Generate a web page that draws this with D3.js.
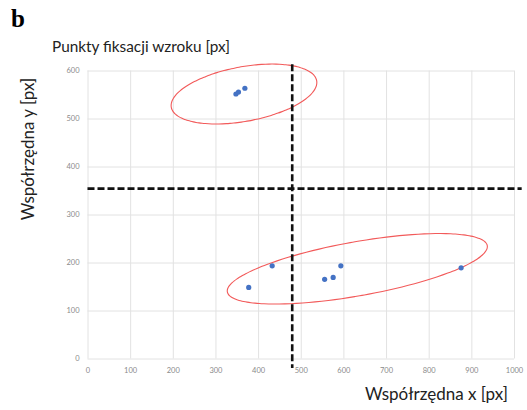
<!DOCTYPE html>
<html>
<head>
<meta charset="utf-8">
<script src="https://cdn.jsdelivr.net/npm/d3@7"></script>
<style>
  html, body { margin: 0; padding: 0; background: #fff; }
  svg { display: block; }
</style>
</head>
<body>
<svg id="chart" width="527" height="410"></svg>
<script>
// Fixation points (x, y in screen pixels)
const fixX = [348, 354, 369, 433, 378, 556, 576, 594, 876];
const fixY = [551, 555, 563, 193, 148, 165, 169, 193, 189];

// Axis ticks
const xTicks = [0, 100, 200, 300, 400, 500, 600, 700, 800, 900, 1000];
const yTicks = [0, 100, 200, 300, 400, 500, 600];

// Cluster outlines: centre and two conjugate semi-axes, in data units
const clusterCx = [366.9, 632.6];
const clusterCy = [551, 186.9];
const clusterUx = [170.4, 304.7];
const clusterUy = [27.8, 48.2];
const clusterVx = [-11.6, -11.1];
const clusterVy = [55.9, 55.4];

// Dividing lines
const splitX = 480;      // vertical threshold
const splitXSpan = [-20, 613];
const splitY = 354;      // horizontal threshold
const splitYSpan = [0, 1018];

const svg = d3.select("#chart");

const x = d3.scaleLinear().domain([0, 1000]).range([87.5, 514]);
const y = d3.scaleLinear().domain([0, 600]).range([358.5, 70.5]);

const grid = "#e2e2e2";
const tickCol = "#8a8a8a";
const font = "Lato, 'Open Sans', sans-serif";

// Gridlines
svg.append("g")
  .attr("transform", `translate(0,${y(0)})`)
  .call(d3.axisBottom(x).tickValues(xTicks).tickSize(-(y(0) - y(600))).tickFormat(""))
  .call(g => g.select(".domain").remove())
  .call(g => g.selectAll("line").attr("stroke", grid).attr("stroke-width", 1));

svg.append("g")
  .attr("transform", `translate(${x(0)},0)`)
  .call(d3.axisLeft(y).tickValues(yTicks).tickSize(-(x(1000) - x(0))).tickFormat(""))
  .call(g => g.select(".domain").remove())
  .call(g => g.selectAll("line").attr("stroke", grid).attr("stroke-width", 1));

// Tick labels
svg.append("g")
  .attr("transform", `translate(0,${y(0)})`)
  .call(d3.axisBottom(x).tickValues(xTicks).tickSize(0).tickPadding(9).tickFormat(d3.format("d")))
  .call(g => g.select(".domain").remove())
  .call(g => g.selectAll("text")
    .attr("fill", tickCol).attr("font-family", font).attr("font-size", 7.5));

svg.append("g")
  .attr("transform", `translate(${x(0)},0)`)
  .call(d3.axisLeft(y).tickValues(yTicks).tickSize(0).tickPadding(8).tickFormat(d3.format("d")))
  .call(g => g.select(".domain").remove())
  .call(g => g.selectAll("text")
    .attr("fill", tickCol).attr("font-family", font).attr("font-size", 7.5));

// Cluster ellipses
const ts = d3.range(0, 360, 3).map(d => d * Math.PI / 180);
const line = d3.line().x(d => x(d[0])).y(d => y(d[1])).curve(d3.curveCardinalClosed);
clusterCx.forEach((cx, i) => {
  const pts = ts.map(t => [
    cx + clusterUx[i] * Math.cos(t) + clusterVx[i] * Math.sin(t),
    clusterCy[i] + clusterUy[i] * Math.cos(t) + clusterVy[i] * Math.sin(t)
  ]);
  svg.append("path")
    .attr("d", line(pts))
    .attr("fill", "none")
    .attr("stroke", "#f25a5a")
    .attr("stroke-width", 1.1);
});

// Dividing dashed lines
svg.append("line")
  .attr("x1", x(splitX)).attr("x2", x(splitX))
  .attr("y1", y(splitXSpan[1])).attr("y2", y(splitXSpan[0]))
  .attr("stroke", "#111").attr("stroke-width", 2.6).attr("stroke-dasharray", "7,3");
svg.append("line")
  .attr("x1", x(splitYSpan[0])).attr("x2", x(splitYSpan[1]))
  .attr("y1", y(splitY)).attr("y2", y(splitY))
  .attr("stroke", "#111").attr("stroke-width", 2.6).attr("stroke-dasharray", "7,3");

// Fixation points
svg.append("g")
  .selectAll("circle")
  .data(fixX.map((v, i) => [v, fixY[i]]))
  .join("circle")
  .attr("cx", d => x(d[0]))
  .attr("cy", d => y(d[1]))
  .attr("r", 2.6)
  .attr("fill", "#4472c4");

// Titles
svg.append("text")
  .attr("x", 11).attr("y", 27)
  .attr("font-family", "'Liberation Serif', 'Times New Roman', serif")
  .attr("font-weight", "bold").attr("font-size", 25)
  .attr("fill", "#000")
  .text("b");

svg.append("text")
  .attr("x", 52).attr("y", 52)
  .attr("font-family", font).attr("font-size", 14.5)
  .attr("fill", "#222")
  .attr("textLength", 178).attr("lengthAdjust", "spacingAndGlyphs")
  .text("Punkty fiksacji wzroku [px]");

svg.append("text")
  .attr("x", 508).attr("y", 400)
  .attr("text-anchor", "end")
  .attr("font-family", font).attr("font-size", 17)
  .attr("fill", "#222")
  .text("Współrzędna x [px]");

svg.append("text")
  .attr("transform", "translate(34,149) rotate(-90)")
  .attr("text-anchor", "middle")
  .attr("font-family", font).attr("font-size", 17)
  .attr("fill", "#222")
  .text("Współrzędna y [px]");
</script>
</body>
</html>
